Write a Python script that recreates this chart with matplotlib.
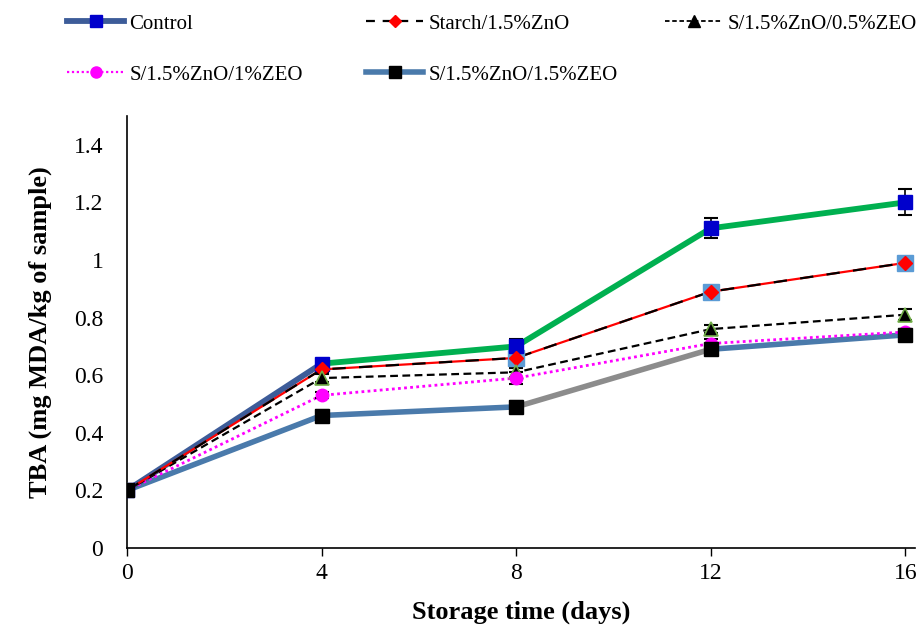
import numpy as np
import matplotlib.pyplot as plt

plt.rcParams['font.family'] = ['Liberation Serif', 'DejaVu Serif']

# storage days and TBA values (mg MDA/kg of sample)
days = [0, 4, 8, 12, 16]
control = [0.20, 0.64, 0.70, 1.11, 1.20]
starch_zno = [0.20, 0.62, 0.66, 0.89, 0.99]
zeo_05 = [0.20, 0.59, 0.61, 0.76, 0.81]
zeo_1 = [0.20, 0.53, 0.59, 0.71, 0.75]
zeo_15 = [0.20, 0.46, 0.49, 0.69, 0.74]

err_control = [0.01, 0.01, 0.025, 0.035, 0.045]
err_starch = [0.01, 0.01, 0.015, 0.01, 0.01]
err_05 = [0.01, 0.015, 0.015, 0.015, 0.02]
err_1 = [0.01, 0.01, 0.02, 0.015, 0.01]
err_15 = [0.01, 0.02, 0.02, 0.015, 0.01]

labels = ['Control', 'Starch/1.5%ZnO', 'S/1.5%ZnO/0.5%ZEO',
          'S/1.5%ZnO/1%ZEO', 'S/1.5%ZnO/1.5%ZEO']

fig = plt.figure(figsize=(9.18, 6.29), dpi=100)
ax = fig.add_axes([0.1383, 0.1288, 0.8585, 0.6868])


def seg_line(x, y, colors, lw, z):
    # each segment gets its own colour
    for i in range(len(x) - 1):
        ax.plot(x[i:i + 2], y[i:i + 2], color=colors[i], lw=lw,
                solid_capstyle='butt', zorder=z)


# thick lines
seg_line(days, zeo_15, ['#4a7aab', '#4a7aab', '#8c8c8c', '#4a7aab'], 4.0, 2)
seg_line(days, control, ['#3d5c99', '#00b050', '#00b050', '#00b050'], 4.2, 2)

# thin lines
ax.plot(days, zeo_1, color='#ff00ff', lw=2.0, ls=(0, (1, 1.2)), zorder=3)
ax.plot(days, zeo_05, color='black', lw=1.6, ls=(0, (3.5, 2)), zorder=3)
ax.plot(days, starch_zno, color='red', lw=1.6, zorder=3)
ax.plot(days, starch_zno, color='black', lw=1.6, ls=(0, (6, 6)), zorder=3)

# error bars
for y, e in [(control, err_control), (starch_zno, err_starch), (zeo_05, err_05),
             (zeo_1, err_1), (zeo_15, err_15)]:
    ax.errorbar(days, y, yerr=e, fmt='none', ecolor='black', elinewidth=1.2,
                capsize=5, capthick=1.5, zorder=4)

# markers
ax.plot(days[2:], starch_zno[2:], ls='none', marker='s', ms=12,
        mfc='#5b9bd5', mec='#5b9bd5', zorder=5)
ax.plot(days, control, ls='none', marker='s', ms=10, mfc='#0000cc',
        mec='#0000cc', zorder=6)
ax.plot(days, starch_zno, ls='none', marker='D', ms=7.5, mfc='red',
        mec='red', zorder=6)
ax.plot(days, zeo_05, ls='none', marker='^', ms=10, mfc='black',
        mec='#70ad47', mew=1.2, zorder=6)
ax.plot(days, zeo_1, ls='none', marker='o', ms=9, mfc='#ff00ff',
        mec='#ff00ff', zorder=6)
ax.plot(days, zeo_15, ls='none', marker='s', ms=10, mfc='black',
        mec='black', zorder=7)

ax.set_xlim(0, 16.2)
ax.set_ylim(0, 1.5)
ax.set_xticks(days)
ax.set_yticks(np.arange(0, 1.41, 0.2))
ax.set_yticklabels(['0', '0.2', '0.4', '0.6', '0.8', '1', '1.2', '1.4'])
ax.tick_params(axis='x', direction='out', length=6, width=1, labelsize=17, pad=5)
ax.tick_params(axis='y', length=0, labelsize=17, pad=17)
for s in ['top', 'right']:
    ax.spines[s].set_visible(False)
ax.spines['left'].set_linewidth(1.2)
ax.spines['bottom'].set_linewidth(1.2)

ax.set_xlabel('Storage time (days)', fontsize=19, fontweight='bold', labelpad=12)
ax.set_ylabel('TBA (mg MDA/kg of sample)', fontsize=19, fontweight='bold', labelpad=16)

# legend entries placed one by one
h_control = plt.Line2D([], [], color='#3d5c99', lw=4.2, marker='s', ms=9,
                       mfc='#0000cc', mec='#0000cc')
h_starch = plt.Line2D([], [], color='black', lw=1.6, ls=(0, (4, 3.5)), marker='D',
                      ms=6.5, mfc='red', mec='red')
h_05 = plt.Line2D([], [], color='black', lw=1.3, ls=(0, (2.5, 1.5)), marker='^',
                  ms=8, mfc='black', mec='black')
h_1 = plt.Line2D([], [], color='#ff00ff', lw=1.6, ls=(0, (1, 1.2)), marker='o',
                 ms=8, mfc='#ff00ff', mec='#ff00ff')
h_15 = plt.Line2D([], [], color='#4a7aab', lw=4.0, marker='s', ms=9,
                  mfc='black', mec='black')

entries = [(h_control, labels[0], 67, 24), (h_starch, labels[1], 366, 24),
           (h_05, labels[2], 665, 24), (h_1, labels[3], 67, 75),
           (h_15, labels[4], 366, 75)]
for h, lab, px, py in entries:
    fig.legend([h], [lab], loc='center left',
               bbox_to_anchor=(px / 918, 1 - py / 629), frameon=False,
               borderpad=0, borderaxespad=0, handlelength=2.75,
               handletextpad=0.25, fontsize=15)

fig.savefig('out.png', dpi=100)
